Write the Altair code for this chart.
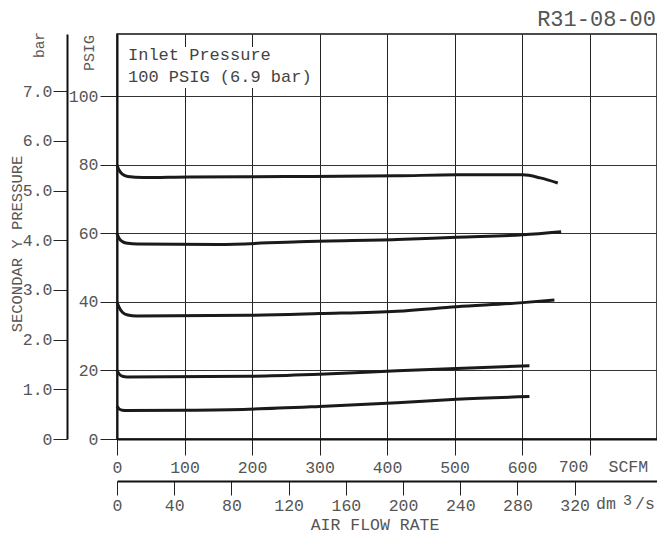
import altair as alt
import pandas as pd

# ---------------- data ----------------
scfm_80 = [0, 3, 8, 16, 38, 107, 250, 415, 503, 601, 627, 653]
psig_80 = [80, 78.5, 77.3, 76.6, 76.3, 76.5, 76.6, 76.8, 77.1, 77.1, 76.2, 74.7]
scfm_60 = [0, 3, 8, 16, 30, 150, 270, 415, 503, 601, 658]
psig_60 = [60, 58.6, 57.6, 57.1, 56.9, 56.8, 57.6, 58.2, 58.9, 59.6, 60.5]
scfm_40 = [0, 3, 8, 16, 29, 195, 300, 415, 503, 601, 648]
psig_40 = [40, 38.5, 37.0, 36.2, 35.9, 36.1, 36.6, 37.3, 38.6, 39.8, 40.6]
scfm_20 = [0, 3, 8, 15, 195, 300, 415, 503, 611]
psig_20 = [20, 19.0, 18.3, 18.1, 18.3, 18.9, 19.9, 20.6, 21.4]
scfm_10 = [0, 3, 8, 15, 100, 195, 300, 415, 503, 611]
psig_10 = [9.6, 8.8, 8.4, 8.3, 8.4, 8.7, 9.5, 10.6, 11.6, 12.4]

scfm_ticks = [0, 100, 200, 300, 400, 500, 600, 700]
dm3s_ticks = [0, 40, 80, 120, 160, 200, 240, 280, 320]
psig_ticks = [0, 20, 40, 60, 80, 100]
bar_ticks = [0, 1, 2, 3, 4, 5, 6, 7]

note_lines = ["Inlet Pressure", "100 PSIG (6.9 bar)"]

SCFM_PER_DM3S = 2.11888
PSI_PER_BAR = 14.5038
X_MAX = 800
Y_MAX = 118.2

# ---------------- build table ----------------
rows = []
for name, xs_, ys_ in [("80", scfm_80, psig_80), ("60", scfm_60, psig_60),
                       ("40", scfm_40, psig_40), ("20", scfm_20, psig_20),
                       ("10", scfm_10, psig_10)]:
    for i, (a, b) in enumerate(zip(xs_, ys_)):
        rows.append({"series": name, "scfm": a, "psig": b, "order": i})
df = pd.DataFrame(rows)

FONT = "Liberation Mono"
LABEL = "#555555"
LINE = "#222222"
W, H = 540, 405

xs = alt.Scale(domain=[0, X_MAX], nice=False, zero=False)
ys = alt.Scale(domain=[0, Y_MAX], nice=False, zero=False)

common_axis = dict(labelFont=FONT, labelFontSize=16.5, labelColor=LABEL,
                   labelFlush=False, labelOverlap=False, title=None,
                   tickColor=LINE, tickWidth=1, domainColor="#111111",
                   domainWidth=2, zindex=0)

curves = alt.Chart(df).mark_line(
    color="#1a1a1a", strokeWidth=3, interpolate="monotone"
).encode(
    x=alt.X("scfm:Q", scale=xs, axis=alt.Axis(
        values=scfm_ticks, grid=True, gridColor=LINE, gridWidth=1,
        tickSize=16, labelPadding=4,
        labelExpr="datum.value == 700 ? '' : datum.label", **common_axis)),
    y=alt.Y("psig:Q", scale=ys, axis=alt.Axis(
        values=psig_ticks, grid=True, gridColor="#333333", gridWidth=1,
        tickSize=17, labelPadding=2, **common_axis)),
    detail="series:N",
    order="order:Q",
)

# white background behind the inlet-pressure note
box = alt.Chart(alt.Data(values=[{}])).mark_rect(color="white").encode(
    x=alt.value(8), x2=alt.value(196), y=alt.value(13), y2=alt.value(54)
)


def label(text, x, y, size=16.5, angle=0, align="center", color=LABEL):
    return alt.Chart(alt.Data(values=[{}])).mark_text(
        text=text, font=FONT, fontSize=size, angle=angle, align=align,
        baseline="middle", color=color
    ).encode(x=alt.value(x), y=alt.value(y))


x700 = W * 700 / X_MAX
labels = [
    label(note_lines[0], 11, 21, size=17, align="left", color="#444444"),
    label(note_lines[1], 11, 43, size=17, align="left", color="#444444"),
    label("bar", -77, 11, size=14.5, angle=270),
    label("PSIG", -28.5, 19, size=15, angle=270),
    label("SECONDAR Y PRESSURE", -100.5, 210, size=15.5, angle=270),
    label("AIR FLOW RATE", 258, 491),
    label("R31-08-00", W - 1, -15.5, size=22, align="right"),
    label("700", x700 - 16, 433),
    label("SCFM", x700 + 19, 433, align="left"),
    label("dm", 479, 470, align="left"),
    label("3", 506, 466, size=15, align="left"),
    label("/s", 518, 470, align="left"),
]

aux = alt.Chart(pd.DataFrame({"dm": [0], "bar": [0]})).mark_point(opacity=0).encode(
    x=alt.X("dm:Q", scale=alt.Scale(domain=[0, X_MAX / SCFM_PER_DM3S], nice=False, zero=False),
            axis=alt.Axis(orient="bottom", offset=42, values=dm3s_ticks,
                          tickSize=14, labelPadding=2, grid=False, **common_axis)),
    y=alt.Y("bar:Q", scale=alt.Scale(domain=[0, Y_MAX / PSI_PER_BAR], nice=False, zero=False),
            axis=alt.Axis(orient="left", offset=50, values=bar_ticks, grid=False,
                          tickSize=14, labelPadding=1,
                          labelExpr="datum.value == 0 ? '0' : format(datum.value, '.1f')",
                          **common_axis)),
)

chart = alt.layer(curves, box, *labels, aux).resolve_scale(
    x="independent", y="independent"
).properties(
    width=W, height=H,
    autosize=alt.AutoSizeParams(type="none"),
    padding={"left": 109, "top": 26, "right": 0, "bottom": 96},
).configure_view(stroke="#111111", strokeWidth=1.5)

chart.save("out.html", embed_options={"renderer": "svg", "actions": False})
